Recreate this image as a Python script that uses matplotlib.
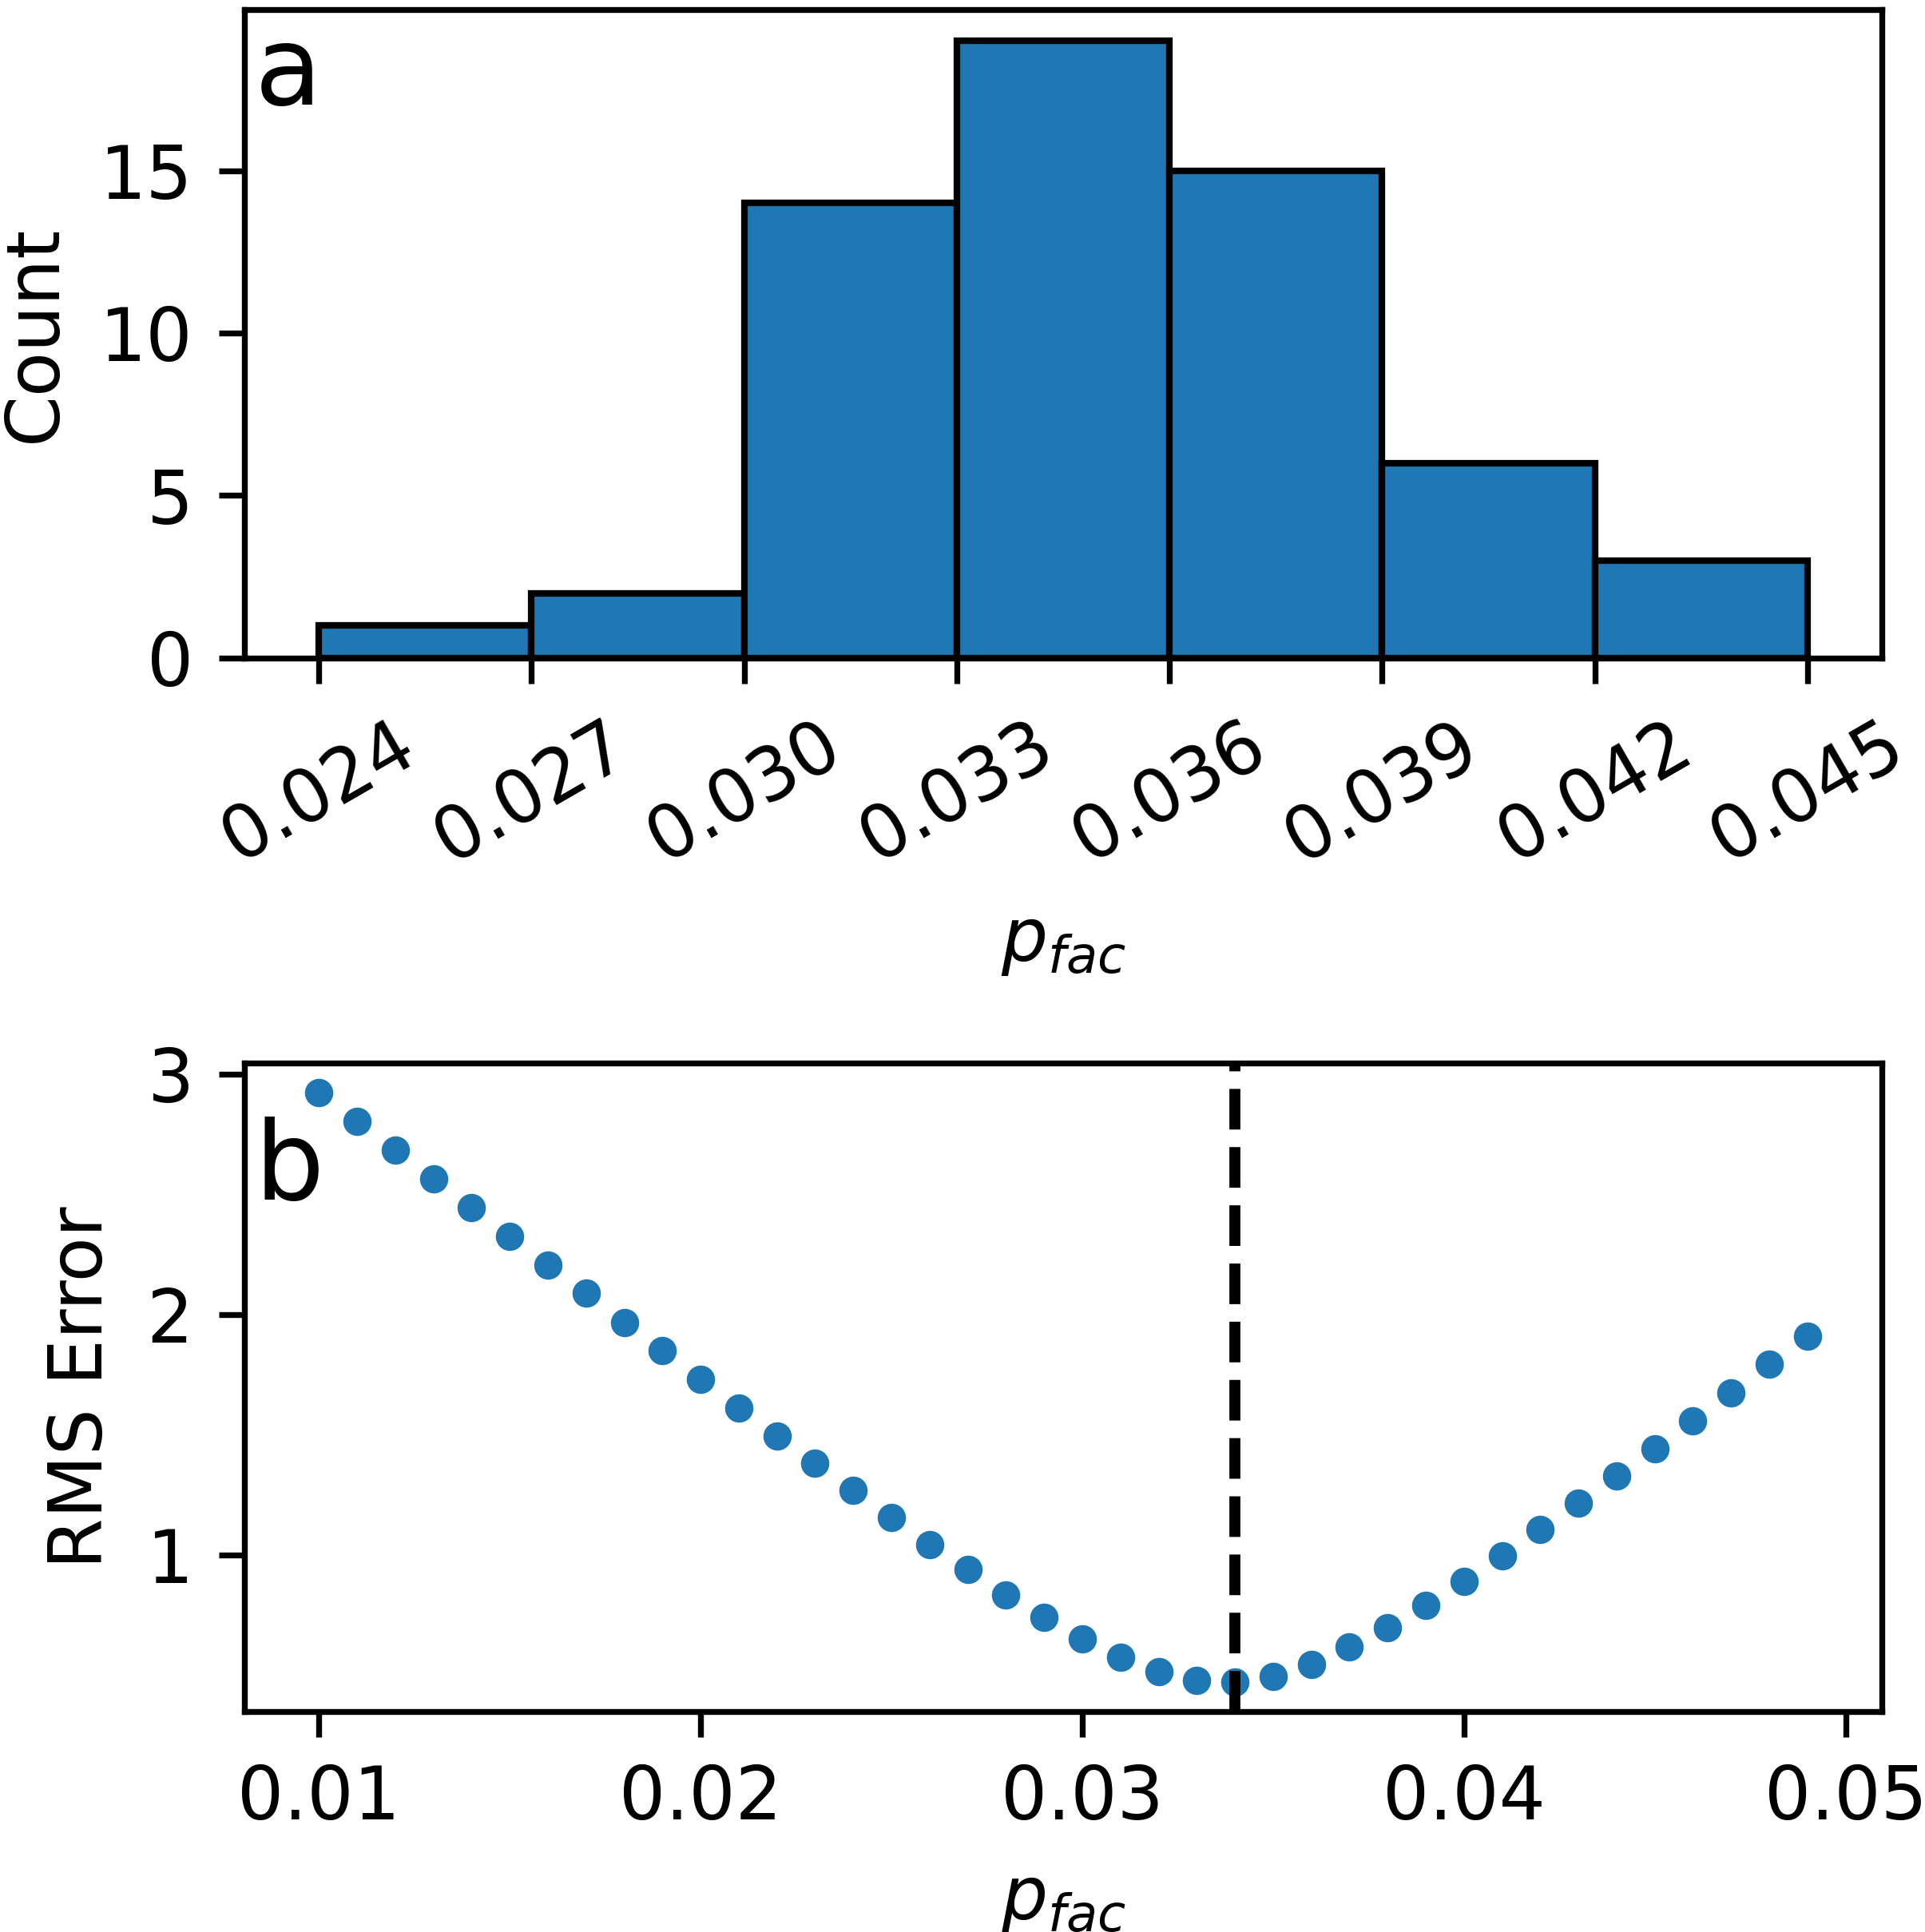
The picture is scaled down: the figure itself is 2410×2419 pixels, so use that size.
import numpy as np
import matplotlib
matplotlib.use("Agg")
import matplotlib.pyplot as plt

# ---- data (panel a: histogram of p_fac) ----
bin_edges = [0.024, 0.027, 0.030, 0.033, 0.036, 0.039, 0.042, 0.045]
counts = [1, 2, 14, 19, 15, 6, 3]
hist_tick_labels = ["0.024", "0.027", "0.030", "0.033", "0.036", "0.039", "0.042", "0.045"]

# ---- data (panel b: RMS error vs p_fac) ----
p_fac = [0.010, 0.011, 0.012, 0.013, 0.014, 0.015, 0.016, 0.017, 0.018, 0.019,
         0.020, 0.021, 0.022, 0.023, 0.024, 0.025, 0.026, 0.027, 0.028, 0.029,
         0.030, 0.031, 0.032, 0.033, 0.034, 0.035, 0.036, 0.037, 0.038, 0.039,
         0.040, 0.041, 0.042, 0.043, 0.044, 0.045, 0.046, 0.047, 0.048, 0.049]
rms_error = [2.924, 2.805, 2.683, 2.565, 2.445, 2.325, 2.205, 2.088, 1.965, 1.850,
             1.730, 1.612, 1.495, 1.380, 1.268, 1.155, 1.043, 0.938, 0.833, 0.738,
             0.650, 0.572, 0.515, 0.478, 0.470, 0.495, 0.545, 0.618, 0.695, 0.790,
             0.890, 0.995, 1.105, 1.215, 1.328, 1.442, 1.558, 1.675, 1.792, 1.910]
best_p = 0.034
b_ticks = [0.01, 0.02, 0.03, 0.04, 0.05]
b_tick_labels = ["0.01", "0.02", "0.03", "0.04", "0.05"]

plt.rcParams["font.family"] = ["DejaVu Sans"]
plt.rcParams["font.size"] = 10

DPI = 660
fig = plt.figure(figsize=(2410 / DPI, 2419 / DPI), dpi=DPI)
ax_a = fig.add_axes([0.127, 0.6594, 0.9776 - 0.127, 0.995 - 0.6594])
ax_b = fig.add_axes([0.127, 0.1141, 0.9776 - 0.127, 0.4498 - 0.1141])

# panel a
ax_a.hist(bin_edges[:-1], bins=bin_edges, weights=counts,
          color="#1f77b4", edgecolor="black", linewidth=0.9)
ax_a.set_xticks(bin_edges)
ax_a.set_xticklabels(hist_tick_labels, rotation=30)
ax_a.set_yticks([0, 5, 10, 15])
ax_a.set_xlabel("$p_{fac}$")
ax_a.set_ylabel("Count")
ax_a.text(0.006, 0.853, "a", transform=ax_a.transAxes, fontsize=15,
          ha="left", va="baseline")

# panel b
ax_b.scatter(p_fac, rms_error, s=15, color="#1f77b4", linewidths=0)
ax_b.axvline(best_p, color="black", linestyle="--", linewidth=1.5)
ax_b.set_xticks(b_ticks)
ax_b.set_xticklabels(b_tick_labels)
ax_b.set_yticks([1, 2, 3])
ax_b.set_xlabel("$p_{fac}$")
ax_b.set_ylabel("RMS Error")
ax_b.text(0.006, 0.789, "b", transform=ax_b.transAxes, fontsize=15,
          ha="left", va="baseline")

fig.savefig("out.png", dpi=DPI)
